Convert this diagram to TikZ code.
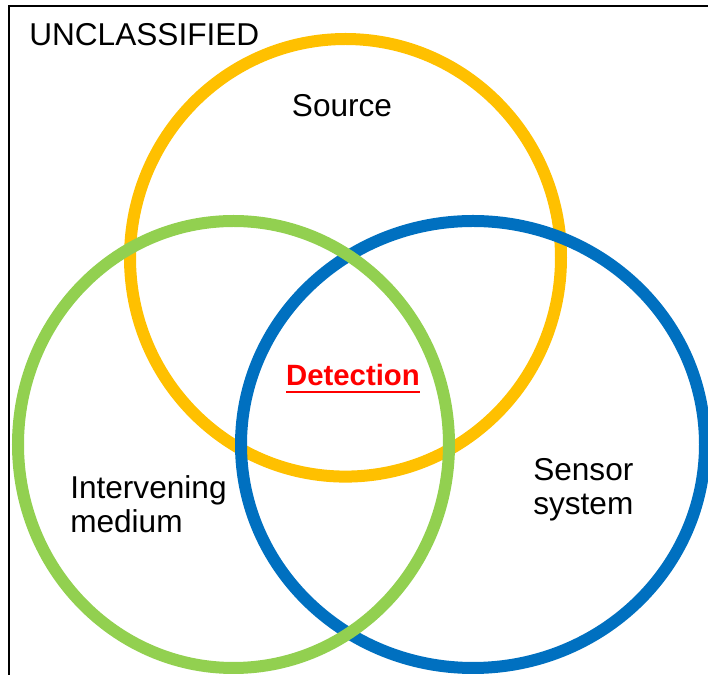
\documentclass[tikz,border=0pt]{standalone}
\usepackage{fontspec}
\setmainfont{Liberation Sans}
\usepackage{tikz}
\usetikzlibrary{positioning}

\definecolor{srcorange}{HTML}{FFC000}
\definecolor{medgreen}{HTML}{92D050}
\definecolor{sensblue}{HTML}{0070C0}

\newcommand{\thickul}[1]{\setbox0\hbox{#1}\rlap{\raisebox{-5.6pt}{\rule{\wd0}{2.2pt}}}\box0}

\tikzset{
  ring/.style={line width=9pt},
  lbl/.style={inner sep=0pt, font=\fontsize{23.7}{25.5}\selectfont, align=left},
}

\begin{document}
\begin{tikzpicture}[x=0.75pt, y=0.75pt]
\useasboundingbox (0,0) rectangle (708,675);

% Frame
\node at (9,-10) (f0) {};
\node at (9,669) (f1) {};
\node at (720,669) (f2) {};
\draw[line width=1.5pt, -] (f0.center) -- (f1.center) -- (f2.center);
\node [lbl, anchor=base west] at (29,629) (uncl) {UNCLASSIFIED};

% Source
\node at (345.5,417.2) (src) {};
\draw[ring, srcorange] (src.center) ellipse [x radius=215.5, y radius=218.8];
\node [lbl, anchor=base] at (342,558) (srct) {Source};

% Sensor system
\node at (473,230.5) (sens) {};
\draw[ring, sensblue] (sens.center) ellipse [x radius=232, y radius=223.5];
\node [lbl, anchor=base west] at (533,160) (senst) {Sensor\\system};

% Intervening medium
\node at (233.5,230.5) (med) {};
\draw[ring, medgreen] (med.center) ellipse [x radius=215.5, y radius=223.5];
\node [lbl, anchor=base west] at (70,142) (medt) {Intervening\\medium};

% Detection
\node [lbl, anchor=base, text=red, font=\fontsize{22}{25}\selectfont\bfseries] at (353,289) (det) {\thickul{Detection}};

\end{tikzpicture}
\end{document}
